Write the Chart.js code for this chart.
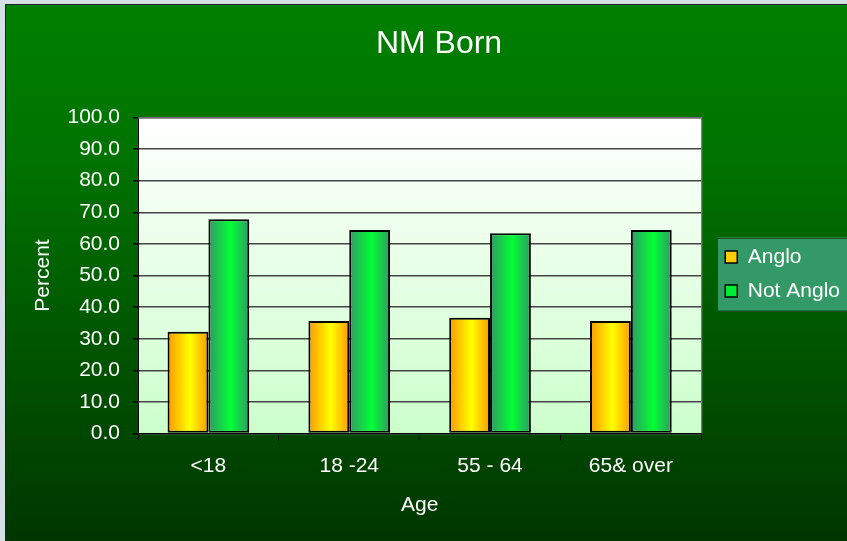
<!DOCTYPE html>
<html>
<head>
<meta charset="utf-8">
<title>NM Born</title>
<script src="https://cdn.jsdelivr.net/npm/chart.js@4/dist/chart.umd.min.js"></script>
<style>
    html, body { margin: 0; padding: 0; background: #d6dee6; }
    #wrap { width: 847px; height: 541px; }
</style>
</head>
<body>
<div id="wrap"><canvas id="chart" width="847" height="541"></canvas></div>
<script>
// ---- data ----
const categories = ['<18', '18 -24', '55 - 64', '65& over'];
const seriesNames = ['Anglo', 'Not Anglo'];
const angloValues = [32.2, 35.6, 36.6, 35.6];
const notAngloValues = [67.8, 64.4, 63.4, 64.4];
const yTicks = [0, 10, 20, 30, 40, 50, 60, 70, 80, 90, 100];

const FONT = "'Liberation Sans', Arial, sans-serif";
const LEGEND_GAP = 8;      // extra room between plot and legend
const LEGEND_SHIFT_X = 11; // nudge legend to the right
const LEGEND_SHIFT_Y = 13; // nudge legend down

// edge / centre colours for the horizontal bar shading
const barShades = [
    { edge: '#ff9900', mid: '#ffff00', legend: '#ffcc00' },
    { edge: '#339966', mid: '#00ff33', legend: '#00ee33' }
];

// background, plot area, legend panel and bar shading
const backdrop = {
    id: 'backdrop',
    afterInit(chart) {
        const l = chart.legend;
        const fit = l.fit.bind(l);
        l.fit = function () {
            fit();
            this.width += LEGEND_GAP;
        };
    },
    afterLayout(chart) {
        const l = chart.legend;
        l.left += LEGEND_SHIFT_X;
        l.right += LEGEND_SHIFT_X;
        l.top += LEGEND_SHIFT_Y;
        l.bottom += LEGEND_SHIFT_Y;
    },
    beforeDraw(chart) {
        const ctx = chart.ctx;
        const w = chart.width, h = chart.height;
        ctx.save();
        ctx.fillStyle = '#d6dee6';
        ctx.fillRect(0, 0, w, h);

        const g = ctx.createLinearGradient(0, 4, 0, h);
        g.addColorStop(0, '#008000');
        g.addColorStop(0.3, '#007200');
        g.addColorStop(1, '#003600');
        ctx.fillStyle = g;
        ctx.fillRect(5, 4, w - 5, h - 4);
        ctx.strokeStyle = '#222222';
        ctx.lineWidth = 1;
        ctx.strokeRect(5.5, 4.5, w, h);

        const a = chart.chartArea;
        const pg = ctx.createLinearGradient(0, a.top, 0, a.bottom);
        pg.addColorStop(0, '#ffffff');
        pg.addColorStop(1, '#ccffcc');
        ctx.fillStyle = pg;
        ctx.fillRect(a.left, a.top, a.right - a.left, a.bottom - a.top);

        const boxes = chart.legend.legendHitBoxes || [];
        if (boxes.length) {
            const left = Math.min(...boxes.map(b => b.left)) - 8;
            const top = Math.min(...boxes.map(b => b.top)) - 9;
            const bottom = Math.max(...boxes.map(b => b.top + b.height)) + 9;
            ctx.fillStyle = '#339966';
            ctx.fillRect(left, top, w - left + 2, bottom - top);
            ctx.strokeStyle = '#1f4a2a';
            ctx.strokeRect(Math.round(left) + 0.5, Math.round(top) + 0.5, w - left + 2, bottom - top);
        }
        ctx.restore();
    },
    beforeDatasetsDraw(chart) {
        const ctx = chart.ctx;
        chart.data.datasets.forEach((ds, i) => {
            const shade = barShades[i];
            chart.getDatasetMeta(i).data.forEach(bar => {
                const x0 = bar.x - bar.width / 2;
                const x1 = bar.x + bar.width / 2;
                const g = ctx.createLinearGradient(x0, 0, x1, 0);
                g.addColorStop(0, shade.edge);
                g.addColorStop(0.55, shade.mid);
                g.addColorStop(1, shade.edge);
                bar.options.backgroundColor = g;
            });
        });
    },
    afterDatasetsDraw(chart) {
        const ctx = chart.ctx;
        const a = chart.chartArea;
        ctx.save();
        ctx.strokeStyle = '#808080';
        ctx.lineWidth = 1;
        ctx.beginPath();
        ctx.moveTo(a.left, a.top + 0.5);
        ctx.lineTo(a.right + 0.5, a.top + 0.5);
        ctx.lineTo(a.right + 0.5, a.bottom);
        ctx.stroke();
        ctx.restore();
    }
};

new Chart(document.getElementById('chart'), {
    type: 'bar',
    data: {
        labels: categories,
        datasets: [{
            label: seriesNames[0],
            data: angloValues,
            backgroundColor: () => barShades[0].legend,
            borderColor: '#000000',
            borderWidth: 2,
            borderSkipped: false
        }, {
            label: seriesNames[1],
            data: notAngloValues,
            backgroundColor: () => barShades[1].legend,
            borderColor: '#000000',
            borderWidth: 2,
            borderSkipped: false
        }]
    },
    options: {
        responsive: false,
        animation: false,
        layout: {
            padding: { top: 0, left: 31, right: 0, bottom: 19 }
        },
        datasets: {
            bar: {
                categoryPercentage: 0.58,
                barPercentage: 1.0
            }
        },
        plugins: {
            title: {
                display: true,
                text: 'NM Born',
                color: '#ffffff',
                font: { family: FONT, size: 32, weight: 'normal' },
                padding: { top: 25, bottom: 54 }
            },
            legend: {
                position: 'right',
                labels: {
                    color: '#ffffff',
                    font: { family: FONT, size: 21 },
                    boxWidth: 12,
                    boxHeight: 12,
                    padding: 13,
                    generateLabels: () => seriesNames.map((name, i) => ({
                        text: name,
                        fillStyle: barShades[i].legend,
                        strokeStyle: '#000000',
                        lineWidth: 1.5,
                        fontColor: '#ffffff',
                        datasetIndex: i
                    }))
                }
            },
            tooltip: { enabled: false }
        },
        scales: {
            x: {
                grid: {
                    offset: true,
                    drawOnChartArea: false,
                    drawTicks: true,
                    tickLength: 7,
                    color: '#000000'
                },
                border: { color: '#000000', width: 1 },
                ticks: {
                    color: '#ffffff',
                    font: { family: FONT, size: 21 },
                    padding: 13
                },
                title: {
                    display: true,
                    text: 'Age',
                    color: '#ffffff',
                    font: { family: FONT, size: 21 },
                    padding: { top: 1 }
                }
            },
            y: {
                min: 0,
                max: 100,
                afterBuildTicks: (axis) => {
                    axis.ticks = yTicks.map(v => ({ value: v }));
                },
                afterFit: (axis) => {
                    axis.width = 107;
                },
                grid: {
                    color: '#444444',
                    lineWidth: 1.5,
                    tickLength: 5,
                    tickColor: '#000000'
                },
                border: { color: '#000000', width: 1 },
                ticks: {
                    color: '#ffffff',
                    font: { family: FONT, size: 21 },
                    padding: 13,
                    callback: (v) => Number(v).toFixed(1)
                },
                title: {
                    display: true,
                    text: 'Percent',
                    color: '#ffffff',
                    font: { family: FONT, size: 21 },
                    padding: { top: 0, bottom: 0 }
                }
            }
        }
    },
    plugins: [backdrop]
});
</script>
</body>
</html>
